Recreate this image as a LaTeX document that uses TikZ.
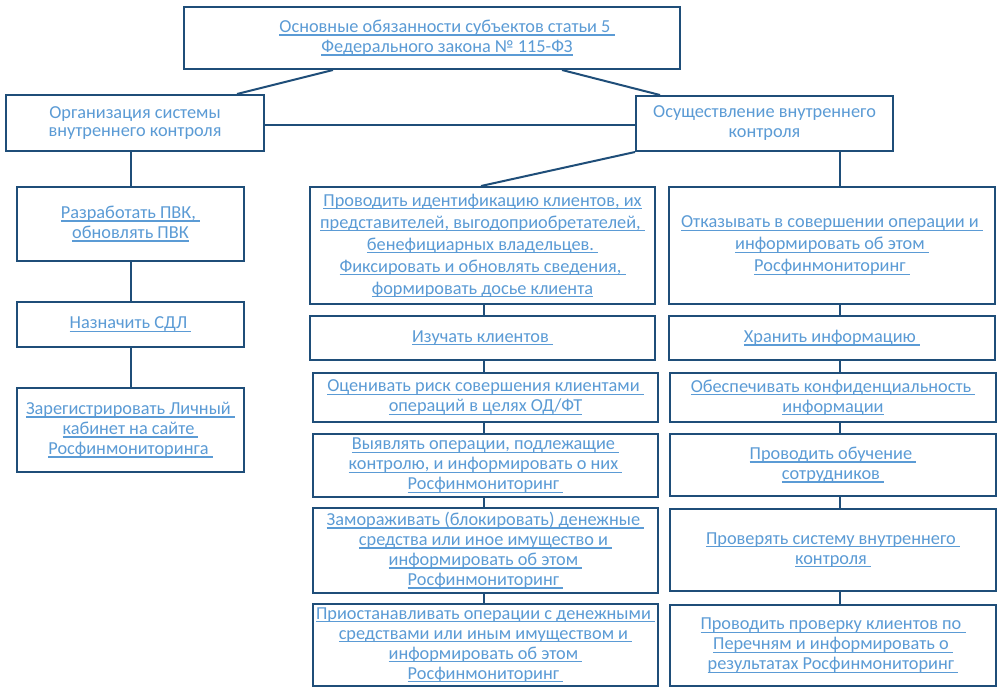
\documentclass[tikz,border=0pt]{standalone}
\usepackage{fontspec}
\setmainfont{Carlito}
\definecolor{bordc}{RGB}{31,78,121}
\definecolor{txtc}{RGB}{91,155,213}
\newcommand\uln[1]{\leavevmode\setbox0\hbox{#1}\rlap{\color{txtc}\rule[-3pt]{\wd0}{1.3pt}}\box0}
\tikzset{
  box/.style={draw=bordc, line width=2pt, text=txtc, align=center, inner sep=0pt, fill=white,
    font=\fontsize{18.3}{20}\selectfont},
  wide/.style={font=\fontsize{18.3}{22}\selectfont},
  tight/.style={font=\fontsize{18.3}{18.5}\selectfont},
  conn/.style={draw=bordc, line width=2pt}
}
\begin{document}
\begin{tikzpicture}[x=1pt,y=-1pt]
\useasboundingbox[fill=white] (0,0) rectangle (1002,694);
% top
\node[box, minimum width=496, minimum height=62] (top) at (432,38)
  {\hspace*{30pt}\uln{Основные обязанности субъектов статьи 5\ }\\\hspace*{30pt}\uln{Федерального закона № 115-ФЗ}};
\node[box, tight, minimum width=258, minimum height=56] (L0) at (135,123)
  {Организация системы\\внутреннего контроля};
\node[box, minimum width=257, minimum height=55] (R0) at (764.5,123.5)
  {Осуществление внутреннего\\контроля};
% left column
\node[box, minimum width=227, minimum height=74] (L1) at (130.5,224)
  {\uln{Разработать ПВК,\ }\\\uln{обновлять ПВК}};
\node[box, minimum width=227, minimum height=45] (L2) at (130.5,324.5)
  {\uln{Назначить СДЛ\ }};
\node[box, minimum width=227, minimum height=84] (L3) at (130.5,430)
  {\uln{Зарегистрировать Личный\ }\\\uln{кабинет на сайте\ }\\\uln{Росфинмониторинга\ }};
% middle column
\node[box, wide, minimum width=345, minimum height=117] (M1) at (482.5,245.5)
  {\uln{Проводить идентификацию клиентов, их}\\\uln{представителей, выгодоприобретателей,\ }\\\uln{бенефициарных владельцев.\ }\\\uln{Фиксировать и обновлять сведения,\ }\\\uln{формировать досье клиента}};
\node[box, minimum width=345, minimum height=44] (M2) at (482.5,338)
  {\uln{Изучать клиентов\ }};
\node[box, minimum width=345, minimum height=49] (M3) at (485.5,397.5)
  {\uln{Оценивать риск совершения клиентами\ }\\\uln{операций в целях ОД/ФТ}};
\node[box, minimum width=345, minimum height=63] (M4) at (485.5,465.5)
  {\uln{Выявлять операции, подлежащие\ }\\\uln{контролю, и информировать о них\ }\\\uln{Росфинмониторинг\ }};
\node[box, minimum width=345, minimum height=85] (M5) at (485.5,550.5)
  {\uln{Замораживать (блокировать) денежные\ }\\\uln{средства или иное имущество и\ }\\\uln{информировать об этом\ }\\\uln{Росфинмониторинг\ }};
\node[box, minimum width=345, minimum height=82] (M6) at (485.5,645)
  {\uln{Приостанавливать операции с денежными\ }\\\uln{средствами или иным имуществом и\ }\\\uln{информировать об этом\ }\\\uln{Росфинмониторинг\ }};
% right column
\node[box, wide, minimum width=326, minimum height=117] (R1) at (832,245.5)
  {\uln{Отказывать в совершении операции и\ }\\\uln{информировать об этом\ }\\\uln{Росфинмониторинг\ }};
\node[box, minimum width=326, minimum height=44] (R2) at (832,338)
  {\uln{Хранить информацию\ }};
\node[box, minimum width=326, minimum height=49] (R3) at (833,397.5)
  {\uln{Обеспечивать конфиденциальность\ }\\\uln{информации}};
\node[box, minimum width=326, minimum height=62] (R4) at (833,465)
  {\uln{Проводить обучение\ }\\\uln{сотрудников\ }};
\node[box, minimum width=326, minimum height=82] (R5) at (833,550)
  {\uln{Проверять систему внутреннего\ }\\\uln{контроля\ }};
\node[box, minimum width=326, minimum height=81] (R6) at (833,645.5)
  {\uln{Проводить проверку клиентов по\ }\\\uln{Перечням и информировать о\ }\\\uln{результатах Росфинмониторинг\ }};
% axis coordinates
\coordinate (tl) at (333,0);
\coordinate (tr) at (562,0);
\coordinate (l0in) at (237,0);
\coordinate (r0in) at (660,0);
\coordinate (m1in) at (481,0);
\coordinate (max) at (484,0);
\coordinate (rax) at (840,0);
\coordinate (hy) at (0,125);
% connectors
\draw[conn] (top.south -| tl) -- (L0.north -| l0in);
\draw[conn] (top.south -| tr) -- (R0.north -| r0in);
\draw[conn] (L0.east |- hy) -- (R0.west |- hy);
\draw[conn] (R0.south west) -- (M1.north -| m1in);
\draw[conn] (R0.south -| rax) -- (R1.north -| rax);
\draw[conn] (L0.south -| L1.north) -- (L1.north);
\draw[conn] (L1.south) -- (L2.north);
\draw[conn] (L2.south) -- (L3.north);
\draw[conn] (M1.south -| max) -- (M2.north -| max);
\draw[conn] (M2.south -| max) -- (M3.north -| max);
\draw[conn] (M3.south -| max) -- (M4.north -| max);
\draw[conn] (M4.south -| max) -- (M5.north -| max);
\draw[conn] (M5.south -| max) -- (M6.north -| max);
\draw[conn] (R1.south -| rax) -- (R2.north -| rax);
\draw[conn] (R2.south -| rax) -- (R3.north -| rax);
\draw[conn] (R3.south -| rax) -- (R4.north -| rax);
\draw[conn] (R4.south -| rax) -- (R5.north -| rax);
\draw[conn] (R5.south -| rax) -- (R6.north -| rax);
\end{tikzpicture}
\end{document}
